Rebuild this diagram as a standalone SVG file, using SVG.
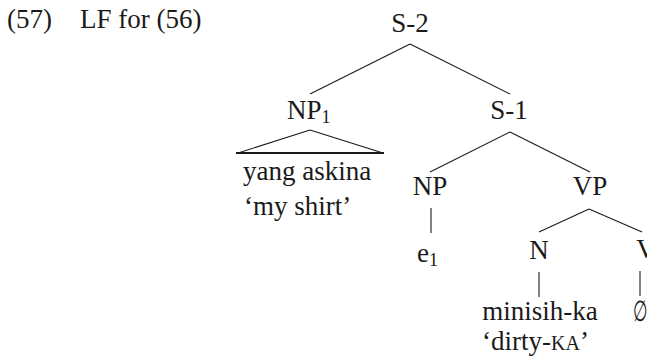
<svg xmlns="http://www.w3.org/2000/svg" width="647" height="362" viewBox="0 0 647 362">
<style>
text{font-family:"Liberation Serif","Times New Roman",serif;font-size:27px;fill:#1a1a1a}
.c{text-anchor:middle}
.sub{font-size:18px}
.sc{font-size:20px}
line{stroke:#1a1a1a;stroke-width:1.1}
.base{stroke-width:2.2}
</style>
<rect width="647" height="362" fill="#fff"/>
<g id="caption"><text x="7" y="28">(57)</text><text x="80" y="28">LF for (56)</text></g>
<g id="connectors">
<line x1="410" y1="44" x2="310" y2="94"/>
<line x1="410" y1="44" x2="510" y2="94"/>
<line x1="310" y1="130" x2="238" y2="153"/>
<line x1="310" y1="130" x2="383" y2="153"/>
<line class="base" x1="236" y1="153" x2="384" y2="153"/>
<line x1="510" y1="132" x2="430" y2="172"/>
<line x1="510" y1="132" x2="590" y2="172"/>
<line x1="431" y1="208" x2="431" y2="233"/>
<line x1="589" y1="209" x2="539" y2="232"/>
<line x1="589" y1="209" x2="642" y2="232"/>
<line x1="539" y1="272" x2="539" y2="297"/>
<line x1="640" y1="271" x2="640" y2="296"/>
</g>
<g id="S-2"><text class="c" x="410" y="32">S-2</text></g>
<g id="NP1"><text x="287" y="119">NP<tspan class="sub" dy="4">1</tspan></text></g>
<g id="NP1-leaf"><text x="243" y="180">yang askina</text><text x="244" y="215">‘my shirt’</text></g>
<g id="S-1"><text class="c" x="509" y="119">S-1</text></g>
<g id="NP"><text class="c" x="430" y="195">NP</text></g>
<g id="e1"><text x="417" y="262">e<tspan class="sub" dy="4">1</tspan></text></g>
<g id="VP"><text class="c" x="590" y="195">VP</text></g>
<g id="N"><text class="c" x="539" y="259">N</text></g>
<g id="V"><text class="c" x="646" y="258">V</text></g>
<g id="N-leaf"><text class="c" x="540" y="320">minisih-ka</text><text x="482" y="350">‘dirty-<tspan class="sc">KA</tspan>’</text></g>
<g id="V-leaf"><text class="c" transform="translate(640,321) scale(0.62,1.08)">∅</text></g>
</svg>
